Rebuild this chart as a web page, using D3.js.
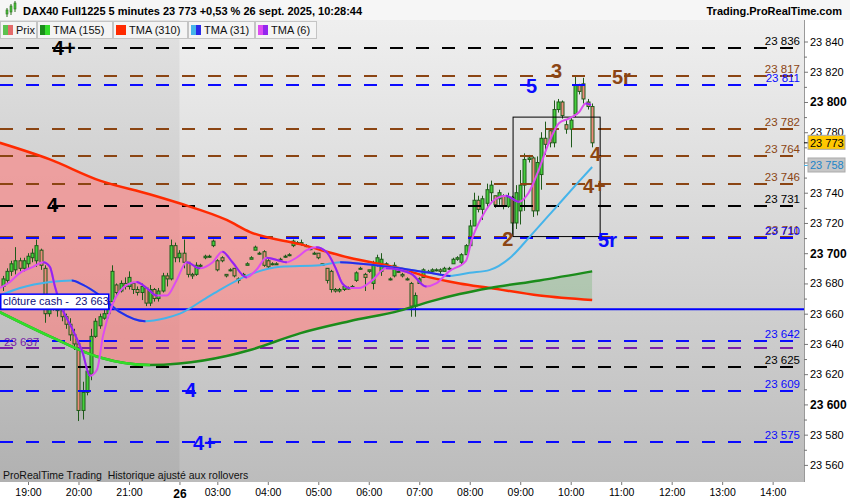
<!DOCTYPE html>
<html>
<head>
<meta charset="utf-8">
<script src="https://cdn.jsdelivr.net/npm/d3@7"></script>
<style>
  body { margin: 0; background: #fff; }
  svg { display: block; font-family: "Liberation Sans", Arial, sans-serif; }
</style>
</head>
<body>
<div id="chart"></div>
<script>
// 5-minute bars, index 0 = 18:30 on the 25th; index 42 = session break (22:00 -> 02:15)
// [open, high, low, close]
const ohlc = [
  [23678,23685,23675,23683],[23682,23690,23680,23688],[23688,23695,23685,23693],[23689,23704,23686,23695],
  [23695,23697,23688,23690],[23690,23697,23688,23695],[23693,23700,23690,23698],[23697,23703,23694,23700],
  [23695,23709,23691,23705],[23702,23703,23689,23692],[23690,23692,23654,23660],[23660,23672,23658,23668],
  [23668,23672,23662,23664],[23665,23670,23658,23662],[23662,23664,23655,23658],[23658,23660,23650,23653],
  [23653,23657,23642,23646],[23646,23650,23636,23640],[23640,23642,23589,23596],[23596,23615,23590,23608],
  [23608,23625,23606,23622],[23620,23650,23616,23645],[23645,23657,23644,23655],[23652,23660,23650,23658],
  [23657,23663,23656,23660],[23660,23670,23657,23668],[23668,23692,23668,23688],[23679,23680,23672,23674],
  [23675,23682,23674,23680],[23680,23684,23676,23678],[23678,23688,23676,23684],[23680,23681,23673,23676],
  [23676,23678,23672,23674],[23674,23680,23669,23678],[23677,23677,23665,23667],[23667,23679,23665,23676],
  [23676,23677,23668,23670],[23670,23677,23668,23675],[23675,23687,23674,23685],[23685,23687,23678,23683],
  [23683,23709,23682,23705],[23705,23707,23694,23697],[23697,23702,23694,23700],[23700,23709,23690,23694],
  [23694,23694,23684,23686],[23686,23687,23683,23685],[23686,23694,23685,23692],[23692,23693,23690,23692],
  [23697,23699,23696,23698],[23698,23699,23697,23698],[23705,23709,23704,23708],[23695,23696,23688,23689],
  [23697,23698,23694,23695],[23686,23686,23684,23685],[23689,23690,23688,23689],[23690,23690,23684,23685],
  [23683,23684,23680,23682],[23686,23687,23685,23686],[23692,23694,23692,23693],[23696,23698,23696,23697],
  [23702,23705,23702,23704],[23700,23701,23699,23700],[23701,23702,23691,23692],[23695,23696,23690,23691],
  [23693,23694,23692,23693],[23693,23694,23693,23693],[23696,23697,23695,23696],[23698,23699,23697,23698],
  [23699,23700,23698,23699],[23705,23709,23704,23708],[23707,23708,23706,23707],[23707,23709,23705,23706],
  [23705,23706,23704,23705],[23703,23704,23702,23703],[23700,23701,23699,23700],[23700,23700,23696,23697],
  [23693,23693,23692,23692],[23690,23690,23680,23682],[23688,23689,23674,23676],[23676,23677,23674,23675],
  [23675,23677,23674,23676],[23676,23679,23675,23678],[23677,23678,23676,23677],[23678,23679,23677,23678],
  [23682,23688,23681,23687],[23690,23691,23689,23690],[23686,23687,23675,23684],[23688,23689,23687,23689],
  [23680,23695,23676,23692],[23692,23699,23691,23697],[23688,23700,23685,23696],[23693,23694,23692,23693],
  [23683,23684,23682,23683],[23685,23694,23684,23692],[23688,23689,23687,23688],[23686,23687,23684,23685],
  [23683,23684,23682,23683],[23680,23681,23658,23665],[23665,23674,23658,23672],[23680,23684,23680,23683],
  [23684,23690,23684,23689],[23688,23689,23687,23688],[23688,23690,23687,23689],[23689,23690,23688,23689],
  [23689,23690,23685,23688],[23688,23691,23688,23690],[23690,23691,23689,23690],[23693,23697,23693,23696],
  [23696,23698,23695,23697],[23694,23700,23692,23699],[23699,23706,23699,23705],[23705,23722,23704,23718],
  [23718,23740,23718,23735],[23735,23738,23727,23729],[23729,23738,23722,23736],[23733,23746,23730,23742],
  [23740,23748,23734,23745],[23738,23738,23730,23732],[23736,23742,23732,23740],[23738,23739,23729,23731],
  [23731,23740,23730,23737],[23737,23738,23711,23720],[23720,23745,23716,23740],[23728,23755,23719,23745],
  [23745,23766,23728,23762],[23762,23765,23760,23763],[23763,23764,23724,23728],[23728,23764,23725,23760],
  [23752,23780,23742,23776],[23776,23787,23765,23772],[23781,23782,23770,23773],[23773,23801,23770,23795],
  [23795,23802,23793,23800],[23800,23801,23789,23791],[23785,23788,23779,23782],[23782,23790,23770,23788],
  [23792,23817,23790,23811],[23811,23812,23805,23807],[23812,23816,23799,23802],[23800,23802,23795,23797],
  [23797,23799,23770,23773]
];

// moving averages: [bar index, value]
const tma6 = [[-0.7,23677],[1.7,23681],[4.1,23687],[7.2,23691],[9.6,23694],[11.2,23691],[12.4,23678],
  [13.6,23667],[16.7,23649],[19,23634],[20.7,23619],[22.4,23623],[23.8,23645],[26.2,23667],[29.5,23679],
  [31.8,23681],[34.2,23677],[36.6,23672],[39,23672],[41.3,23682],[43.7,23694],[46.8,23690],[49.9,23694],
  [52.2,23701],[54.6,23694],[57.9,23684],[60.3,23689],[62.7,23697],[65.8,23695],[67.4,23694],[69.8,23697],
  [72.2,23702],[74.5,23704],[76.9,23701],[79.3,23689],[80.7,23680],[82.4,23677],[84.7,23677],[87.8,23682],
  [91.1,23690],[94.2,23689],[97.3,23686],[100.6,23678],[103,23680],[106.1,23688],[110.1,23695],[111.5,23709],
  [113.9,23724],[117.2,23736],[119.6,23738],[122.7,23734],[125,23740],[127.4,23755],[129.8,23773],
  [132.2,23786],[134.5,23789],[136.9,23793],[138.6,23799],[139.8,23798]];
const tma31 = [[-0.7,23672],[4.1,23677],[11.2,23681],[16.4,23682],[19.1,23679],[23.1,23672],[27.9,23661],
  [33.8,23655],[38.6,23657],[42.1,23660],[49.3,23672],[58.8,23686],[65.9,23691],[75.4,23692],[80.2,23694],
  [85,23693],[94.4,23690],[101.5,23687],[106.3,23685],[111,23687],[115.8,23689],[120.6,23697],[125.3,23711],
  [131.7,23731],[136.5,23746],[140.1,23757]];
const slowIdx = [-0.7, 11.2, 23.1, 34.9, 42, 53.2, 58.8, 70.6, 82.4, 94.4, 101.5, 108.6, 115.8, 127.6, 140.1];
const tma310 = [23773, 23762, 23748, 23739, 23733, 23722, 23714, 23706, 23697, 23690, 23684, 23680, 23677, 23672, 23669];
const tma155 = [23661, 23645, 23631, 23626, 23627, 23632, 23636, 23647, 23655, 23662, 23668, 23673, 23677, 23682, 23688];

// horizontal levels
const levelValues = [23836, 23817, 23811, 23782, 23764, 23746, 23731, 23711, 23710, 23642, 23637, 23625, 23609, 23575];
const levelKinds  = ['k', 'br', 'bl', 'br', 'br', 'br', 'k', 'br', 'bl', 'bl', 'pu', 'k', 'bl', 'bl'];
const cashClose = 23663;
const lastPrice = 23773;
const lastTma31 = 23758;

// wave annotations (bar index, value at baseline)
const waveText = ['4+', '4', '5', '3', '5r', '4', '4+', '2', '5r', '4', '4+'];
const waveIdx  = [11.9, 10.5, 124.4, 130.3, 144.8, 139.6, 137.9, 118.7, 141.5, 43.3, 45.2];
const waveVal  = [23831, 23727, 23806, 23816, 23812, 23761, 23740, 23705, 23704, 23605, 23570];
const waveKind = ['k', 'k', 'bl', 'br', 'br', 'br', 'br', 'br', 'bl', 'bl', 'bl'];

// box drawn on the chart
const boxIdx = [121.3, 142];
const boxVals = [23711, 23790];

// axes
const hourIdx = [6, 18, 30, 42, 51, 63, 75, 87, 99, 111, 123, 135, 147, 159, 171, 183];
const hourLabels = ['19:00','20:00','21:00','26','03:00','04:00','05:00','06:00','07:00','08:00','09:00','10:00','11:00','12:00','13:00','14:00'];
const legendNames = ['Prix', 'TMA (155)', 'TMA (310)', 'TMA (31)', 'TMA (6)'];

const colors = { k: '#000000', br: '#8b4513', bl: '#0a0aff', pu: '#7a1fa8' };

const W = 850, H = 500;
const P = { left: 0, right: 804, top: 20, bottom: 482 };

const x = d3.scaleLinear().domain([0, 183]).range([2.76, 2.76 + 183 * 4.207]);
const y = d3.scaleLinear().domain([23560, 23840]).range([464.9, 41.5]);
const fmt = d3.formatLocale({ decimal: ",", thousands: " ", grouping: [3], currency: ["", ""] }).format(",d");

const svg = d3.select("#chart").append("svg").attr("width", W).attr("height", H);
const defs = svg.append("defs");

// background gradient
const grad = defs.append("linearGradient").attr("id", "bg").attr("x1", 0).attr("y1", 0).attr("x2", 0).attr("y2", 1);
grad.append("stop").attr("offset", "0%").attr("stop-color", "#efefef");
grad.append("stop").attr("offset", "100%").attr("stop-color", "#bcbcbc");

svg.append("rect").attr("width", W).attr("height", H).attr("fill", "#fff");
svg.append("rect").attr("x", P.left).attr("y", P.top).attr("width", P.right - P.left).attr("height", P.bottom - P.top).attr("fill", "url(#bg)");
// previous session shading
svg.append("rect").attr("x", P.left).attr("y", P.top).attr("width", x(42) - P.left).attr("height", P.bottom - P.top)
  .attr("fill", "rgba(0,0,0,0.055)");

defs.append("clipPath").attr("id", "plotClip").append("rect")
  .attr("x", P.left).attr("y", P.top).attr("width", P.right - P.left).attr("height", P.bottom - P.top);

const g = svg.append("g").attr("clip-path", "url(#plotClip)");

// area between TMA(155) and TMA(310)
const slow = slowIdx.map((d, i) => ({ i: d, a: tma310[i], b: tma155[i] }));
const curve = d3.curveMonotoneX;
defs.append("clipPath").attr("id", "aboveGreen").append("path")
  .attr("d", d3.area().curve(curve).x(d => x(d.i)).y0(P.top).y1(d => y(d.b))(slow));
defs.append("clipPath").attr("id", "belowGreen").append("path")
  .attr("d", d3.area().curve(curve).x(d => x(d.i)).y0(P.bottom).y1(d => y(d.b))(slow));
const between = d3.area().curve(curve).x(d => x(d.i)).y0(d => y(d.b)).y1(d => y(d.a));
g.append("path").attr("d", between(slow)).attr("fill", "rgba(255,125,125,0.6)").attr("clip-path", "url(#aboveGreen)");
g.append("path").attr("d", between(slow)).attr("fill", "rgba(110,175,110,0.33)").attr("clip-path", "url(#belowGreen)");

// candles
const cg = g.append("g");
cg.selectAll("line.wick").data(ohlc).join("line")
  .attr("x1", (d, i) => Math.round(x(i)) + 0.5).attr("x2", (d, i) => Math.round(x(i)) + 0.5)
  .attr("y1", d => y(d[1])).attr("y2", d => y(d[2]))
  .attr("stroke", "#1f5a1a").attr("stroke-width", 1);
cg.selectAll("rect.body").data(ohlc).join("rect")
  .attr("x", (d, i) => Math.round(x(i)) - 1)
  .attr("y", d => y(Math.max(d[0], d[3])))
  .attr("width", 3)
  .attr("height", d => Math.max(1, Math.abs(y(d[0]) - y(d[3]))))
  .attr("fill", d => d[3] >= d[0] ? "#45cf3c" : "#ee8a7c")
  .attr("stroke", "#1f5a1a").attr("stroke-width", 1);

// dashed levels
g.selectAll("line.level").data(levelValues).join("line")
  .attr("x1", 0).attr("x2", 793)
  .attr("y1", d => Math.round(y(d))).attr("y2", d => Math.round(y(d)))
  .attr("stroke", (d, i) => colors[levelKinds[i]])
  .attr("stroke-width", 2).attr("stroke-dasharray", "13,13");

// cash close line
g.append("line").attr("x1", P.left).attr("x2", P.right)
  .attr("y1", y(cashClose)).attr("y2", y(cashClose)).attr("stroke", "#0000ff").attr("stroke-width", 2);

// box
g.append("rect").attr("x", x(boxIdx[0])).attr("y", y(boxVals[1]))
  .attr("width", x(boxIdx[1]) - x(boxIdx[0])).attr("height", y(boxVals[0]) - y(boxVals[1]))
  .attr("fill", "none").attr("stroke", "#000").attr("stroke-width", 1);

// two-colour line: rising colour everywhere, falling colour clipped to falling stretches
let clipN = 0;
function twoColour(pts, up, down, width) {
  const line = d3.line().curve(curve).x(d => x(d[0])).y(d => y(d[1]));
  g.append("path").attr("d", line(pts)).attr("fill", "none").attr("stroke", up).attr("stroke-width", width);
  const id = "fall" + (clipN++);
  const cp = defs.append("clipPath").attr("id", id);
  for (let k = 0; k < pts.length - 1; k++) {
    if (pts[k + 1][1] < pts[k][1]) {
      cp.append("rect").attr("x", x(pts[k][0])).attr("y", 0)
        .attr("width", x(pts[k + 1][0]) - x(pts[k][0]) + 0.5).attr("height", H);
    }
  }
  g.append("path").attr("d", line(pts)).attr("fill", "none").attr("stroke", down)
    .attr("stroke-width", width).attr("clip-path", `url(#${id})`);
}

g.append("path").attr("d", d3.line().curve(curve).x(d => x(d.i)).y(d => y(d.a))(slow))
  .attr("fill", "none").attr("stroke", "#ff2a00").attr("stroke-width", 2.5);
twoColour(slow.map(d => [d.i, d.b]), "#1b8c1b", "#33dd2a", 2.5);
twoColour(tma31, "#45b4ea", "#2a2ae8", 2);
twoColour(tma6, "#dd4cf0", "#9326ee", 2);

// level value labels
svg.selectAll("text.lvl").data(levelValues).join("text")
  .attr("x", (d, i) => levelKinds[i] === 'pu' ? 4 : 800)
  .attr("y", (d, i) => y(d) - (levelKinds[i] === 'pu' ? 2 : 3))
  .attr("text-anchor", (d, i) => levelKinds[i] === 'pu' ? "start" : "end")
  .attr("font-size", 11.5)
  .attr("fill", (d, i) => colors[levelKinds[i]])
  .text(d => fmt(d));

// wave labels
svg.selectAll("text.wave").data(waveText).join("text")
  .attr("x", (d, i) => x(waveIdx[i])).attr("y", (d, i) => y(waveVal[i]))
  .attr("font-size", 20).attr("font-weight", "bold")
  .attr("fill", (d, i) => colors[waveKind[i]])
  .text(d => d);

// cash close label
svg.append("rect").attr("x", 0.75).attr("y", y(cashClose) - 15).attr("width", 108).attr("height", 15)
  .attr("fill", "#fff").attr("stroke", "#0000ff").attr("stroke-width", 1.5);
svg.append("text").attr("x", 3).attr("y", y(cashClose) - 4).attr("font-size", 11).attr("fill", "#10107a")
  .attr("xml:space", "preserve").text("clôture cash -  " + fmt(cashClose));

svg.append("text").attr("x", 3).attr("y", 479).attr("font-size", 10.5).attr("fill", "#111")
  .attr("xml:space", "preserve").text("ProRealTime Trading  Historique ajusté aux rollovers");

// right axis
svg.append("rect").attr("x", P.right).attr("y", P.top).attr("width", W - P.right).attr("height", H - P.top).attr("fill", "#fff");
svg.append("rect").attr("x", 0).attr("y", P.bottom).attr("width", W).attr("height", H - P.bottom).attr("fill", "#fff");
svg.append("line").attr("x1", P.right + 0.5).attr("x2", P.right + 0.5).attr("y1", P.top).attr("y2", P.bottom)
  .attr("stroke", "#999");

const yAx = svg.append("g").attr("transform", `translate(${P.right},0)`)
  .call(d3.axisRight(y).tickValues(d3.range(23560, 23841, 20)).tickSize(4).tickPadding(2).tickFormat(fmt));
const yMinor = svg.append("g").attr("transform", `translate(${P.right},0)`)
  .call(d3.axisRight(y).tickValues(d3.range(23570, 23840, 20)).tickSize(3).tickFormat(""));
[yAx, yMinor].forEach(a => {
  a.select(".domain").remove();
  a.selectAll("line").attr("stroke", "#777");
});
yAx.selectAll("text").attr("font-size", 11).attr("fill", "#000")
  .attr("font-family", "Liberation Sans, Arial, sans-serif")
  .attr("font-weight", d => d % 100 === 0 ? "bold" : "normal")
  .attr("font-size", d => d % 100 === 0 ? 12 : 11);

// price tags
function tag(v, fill, stroke, txt, tick) {
  svg.append("line").attr("x1", P.right).attr("x2", P.right + 4).attr("y1", y(v)).attr("y2", y(v)).attr("stroke", tick);
  svg.append("rect").attr("x", 808).attr("y", y(v) - 7.5).attr("width", 37).attr("height", 14)
    .attr("fill", fill).attr("stroke", stroke);
  svg.append("text").attr("x", 810).attr("y", y(v) + 4).attr("font-size", 11).attr("fill", txt).text(fmt(v));
}
tag(lastPrice, "#ffc800", "#aaa", "#000", "#000");
tag(lastTma31, "#c6c6c6", "#aaa", "#1b84c8", "#45b4ea");

// bottom axis
const xAx = svg.append("g").attr("transform", `translate(0,${P.bottom})`)
  .call(d3.axisBottom(x).tickValues(hourIdx).tickSize(3).tickPadding(4).tickFormat((d, i) => hourLabels[i]));
xAx.select(".domain").remove();
xAx.selectAll("line").attr("stroke", "#777");
xAx.selectAll("text").attr("font-size", 10.5).attr("fill", "#000")
  .attr("font-family", "Liberation Sans, Arial, sans-serif")
  .attr("font-weight", (d, i) => hourLabels[i] === '26' ? "bold" : "normal")
  .attr("font-size", (d, i) => hourLabels[i] === '26' ? 12 : 10.5);

// header
svg.append("rect").attr("x", 0).attr("y", 0).attr("width", W).attr("height", P.top).attr("fill", "#f6f6f6");
const icon = svg.append("g");
[[6, 10, 14], [10, 6, 12], [14, 3, 9]].forEach(c => {
  icon.append("line").attr("x1", c[0] + 1).attr("x2", c[0] + 1).attr("y1", c[1] - 2).attr("y2", c[2] + 3).attr("stroke", "#2d6e1f");
  icon.append("rect").attr("x", c[0]).attr("y", c[1]).attr("width", 2).attr("height", c[2] - c[1]).attr("fill", "#49c43b").attr("stroke", "#2d6e1f").attr("stroke-width", 0.6);
});
svg.append("text").attr("x", 23).attr("y", 15).attr("font-size", 11).attr("font-weight", "bold")
  .text("DAX40 Full1225 5 minutes 23 773 +0,53 % 26 sept. 2025, 10:28:44");
svg.append("text").attr("x", 842).attr("y", 15).attr("text-anchor", "end").attr("font-size", 11).attr("font-weight", "bold")
  .text("Trading.ProRealTime.com");

// legend
const legendEdges = [0, 37, 113, 188, 255, 317];
const legendSwatch = [["#5cc24f", "#e46a6a"], ["#1b8c1b", "#33dd2a"], ["#ff2a00", "#ff2a00"], ["#45b4ea", "#2a2ae8"], ["#dd4cf0", "#9326ee"]];
const lg = svg.append("g");
legendNames.forEach((name, i) => {
  const x0 = legendEdges[i], x1 = legendEdges[i + 1];
  lg.append("rect").attr("x", x0 + 0.5).attr("y", 21.5).attr("width", x1 - x0 - 1).attr("height", 17)
    .attr("fill", "#f4f4f4").attr("stroke", "#c4c4c4");
  lg.append("rect").attr("x", x0 + 3).attr("y", 25).attr("width", 5).attr("height", 10).attr("fill", legendSwatch[i][0]);
  lg.append("rect").attr("x", x0 + 8).attr("y", 25).attr("width", 5).attr("height", 10).attr("fill", legendSwatch[i][1]);
  lg.append("text").attr("x", x0 + 16).attr("y", 34).attr("font-size", 11).attr("fill", "#111").text(name);
});
</script>
</body>
</html>
